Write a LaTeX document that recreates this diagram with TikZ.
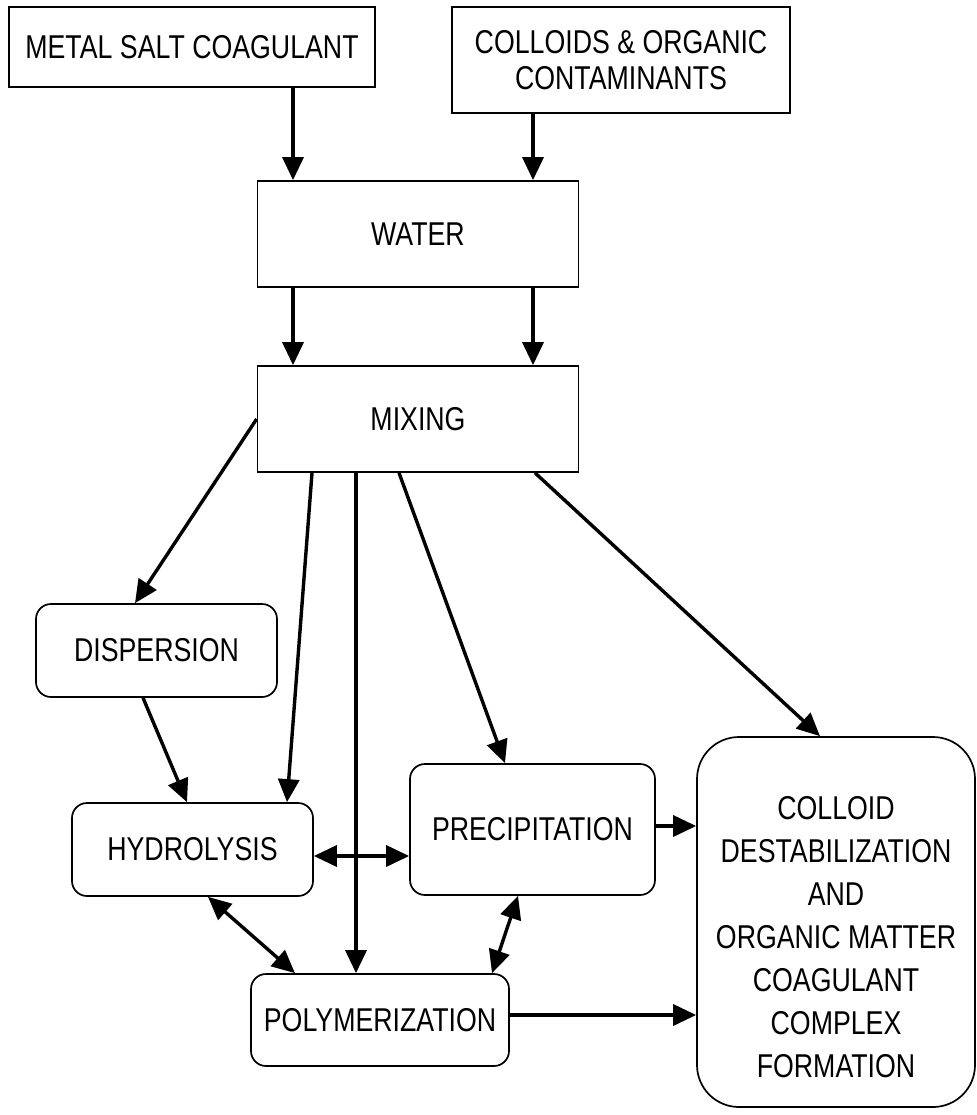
\documentclass[tikz,border=0pt]{standalone}
\usepackage{fontspec}
\setmainfont{Liberation Sans}[FakeStretch=0.81]
\usetikzlibrary{arrows.meta}
\begin{document}
\begin{tikzpicture}[x=1pt,y=-1pt,
  every node/.style={font=\fontsize{33}{36}\selectfont, inner sep=0pt, align=center},
  sqbox/.style={draw, line width=1.7pt},
  rbox/.style={draw, line width=1.7pt, rounded corners=15pt},
  bigbox/.style={draw, line width=1.7pt, rounded corners=42pt},
  arr/.style={line width=3.4pt, -{Triangle[length=23pt,width=21pt]}},
  darr/.style={line width=3.4pt, {Triangle[length=23pt,width=21pt]}-{Triangle[length=23pt,width=21pt]}}
]
\useasboundingbox (0,0) rectangle (976,1115);
\node[sqbox, minimum width=366pt, minimum height=80pt] (metal) at (192,47) {METAL SALT COAGULANT};
\node[sqbox, minimum width=338pt, minimum height=106pt] (coll) at (621,60) {COLLOIDS \& ORGANIC\\CONTAMINANTS};
\node[sqbox, minimum width=321pt, minimum height=106pt] (water) at (418,234) {WATER};
\node[sqbox, minimum width=321pt, minimum height=106pt] (mix) at (418,419) {MIXING};
\node[rbox, minimum width=241pt, minimum height=93pt] (disp) at (156.5,650.5) {DISPERSION};
\node[rbox, minimum width=241pt, minimum height=93pt] (hydro) at (192.5,849.5) {HYDROLYSIS};
\node[rbox, minimum width=245pt, minimum height=131pt] (precip) at (532.5,829.5) {PRECIPITATION};
\node[rbox, minimum width=258pt, minimum height=92pt] (poly) at (380,1020) {POLYMERIZATION};
\node[bigbox, minimum width=278pt, minimum height=370pt] (right) at (836,922) {};
\node[font=\fontsize{33}{43}\selectfont] (rtext) at (836,937) {COLLOID\\DESTABILIZATION\\AND\\ORGANIC MATTER\\COAGULANT\\COMPLEX\\FORMATION};

\draw[arr] ([xshift=101pt]metal.south) -- ([xshift=-125pt]water.north);
\draw[arr] ([xshift=-88pt]coll.south) -- ([xshift=115pt]water.north);
\draw[arr] ([xshift=-125pt]water.south) -- ([xshift=-125pt]mix.north);
\draw[arr] ([xshift=115pt]water.south) -- ([xshift=115pt]mix.north);

\draw[arr] (mix.west) -- ([xshift=-21.5pt]disp.north);
\draw[arr] ([xshift=-106pt]mix.south) -- ([xshift=94.5pt]hydro.north);
\draw[arr] ([xshift=-62pt]mix.south) -- ([xshift=-24pt]poly.north);
\draw[arr] ([xshift=-19pt]mix.south) -- ([xshift=-27.5pt]precip.north);
\draw[arr] ([xshift=117pt]mix.south) -- ([xshift=-16pt]right.north);

\draw[arr] ([xshift=-13.5pt]disp.south) -- ([xshift=-5.5pt]hydro.north);
\draw[darr] ([yshift=-6.5pt]hydro.east) -- ([yshift=-26.5pt]precip.west);
\draw[darr] ([xshift=15.5pt]hydro.south) -- ([xshift=-85pt]poly.north);
\draw[darr] ([xshift=-14.5pt]precip.south) -- ([xshift=112pt]poly.north);
\draw[arr] ([yshift=3.5pt]precip.east) -- ([yshift=96pt]right.west);
\draw[arr] ([yshift=5pt]poly.east) -- ([yshift=-93pt]right.west);
\end{tikzpicture}
\end{document}
